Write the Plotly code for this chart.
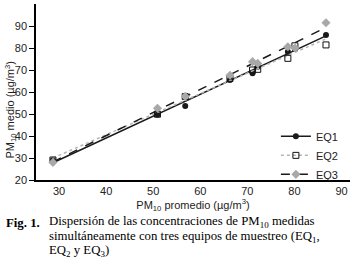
import numpy as np
import plotly.graph_objects as go

# Data
pm10_promedio = [28.7, 50.9, 56.8, 66.3, 71.1, 72.2, 78.6, 80.1, 86.7]
eq1 = [29.0, 49.8, 53.6, 65.5, 68.5, 71.5, 78.3, 79.5, 85.9]
eq2 = [29.1, 49.9, 57.9, 66.2, 70.0, 70.3, 75.3, 81.0, 81.4]
eq3 = [28.0, 52.6, 58.0, 67.6, 73.8, 73.0, 80.6, 80.0, 91.5]
series_names = ["EQ1", "EQ2", "EQ3"]
x_ticks = [30, 40, 50, 60, 70, 80, 90]
y_ticks = [20, 30, 40, 50, 60, 70, 80, 90]

styles = {
    "EQ1": dict(marker=dict(symbol="circle", size=6, color="#1a1a1a"),
                line=dict(color="#1a1a1a", width=1.5, dash="solid")),
    "EQ2": dict(marker=dict(symbol="square-open", size=6, color="#111111", line=dict(width=1)),
                line=dict(color="#b5b5b5", width=1.5, dash="dot")),
    "EQ3": dict(marker=dict(symbol="diamond", size=7, color="#a8a8a8"),
                line=dict(color="#1a1a1a", width=1.5, dash="dash")),
}

fig = go.Figure()
x = np.array(pm10_promedio)
xs = np.array([x.min(), x.max()])
for name, ys in zip(series_names, [eq1, eq2, eq3]):
    st = styles[name]
    slope, inter = np.polyfit(x, np.array(ys), 1)
    fig.add_trace(go.Scatter(x=xs, y=slope * xs + inter, mode="lines", line=st["line"],
                             showlegend=False, hoverinfo="skip"))
    fig.add_trace(go.Scatter(x=pm10_promedio, y=ys, mode="markers", marker=st["marker"],
                             showlegend=False, name=name))
    fig.add_trace(go.Scatter(x=[None], y=[None], mode="lines+markers", name=name,
                             line=st["line"], marker=st["marker"]))

axis_font = dict(family="Liberation Sans, Arial, sans-serif", size=11, color="#222222")
fig.update_layout(
    width=354, height=272,
    margin=dict(l=36, r=4, t=4, b=92),
    paper_bgcolor="white", plot_bgcolor="white",
    font=axis_font,
    xaxis=dict(range=[25.1, 91.8], tickvals=x_ticks, showline=True, linecolor="black",
               linewidth=1.5, ticks="", showgrid=False,
               zeroline=False, tickfont=axis_font,
               title=dict(text="PM<sub>10</sub> promedio (µg/m<sup>3</sup>)", font=axis_font, standoff=2)),
    yaxis=dict(range=[20, 100], tickvals=y_ticks, showline=True, linecolor="black",
               linewidth=1.5, ticks="outside", ticklen=5, tickcolor="black", showgrid=False,
               zeroline=False, tickfont=axis_font),
    legend=dict(x=0.764, y=0.14, xanchor="left", yanchor="middle", bgcolor="rgba(0,0,0,0)",
                font=dict(family="Liberation Sans, Arial, sans-serif", size=11, color="#222222"),
                itemwidth=30, tracegroupgap=0),
    showlegend=True,
)

# y-axis title (placed lower than centre, as in the reference)
fig.add_annotation(text="PM<sub>10</sub> medio (µg/m<sup>3</sup>)", textangle=-90, xref="paper", yref="paper",
                   x=(10.5 - 36) / 314, y=(180 - 110) / 176, xanchor="center", yanchor="middle",
                   showarrow=False, font=axis_font)

serif = dict(family="Liberation Serif, Times New Roman, serif", size=12.8, color="black")
fig.add_annotation(text="<b>Fig. 1.</b>", xref="paper", yref="paper", x=(4 - 36) / 314, y=-(222.7 - 180) / 176,
                   xanchor="left", yanchor="middle", showarrow=False, font=serif)
caption_lines = [
    "Dispersión de las concentraciones de PM<sub>10</sub> medidas",
    "simultáneamente con tres equipos de muestreo (EQ<sub>1</sub>,",
    "EQ<sub>2</sub> y EQ<sub>3</sub>)",
]
for line, yc in zip(caption_lines, [222.0, 236.7, 251.0]):
    fig.add_annotation(text=line, xref="paper", yref="paper", x=(47 - 36) / 314, y=-(yc - 180) / 176,
                       xanchor="left", yanchor="middle", showarrow=False, font=serif)

fig.write_html("out.html", config={"displayModeBar": False},
               post_script="document.body.style.margin='0';")
